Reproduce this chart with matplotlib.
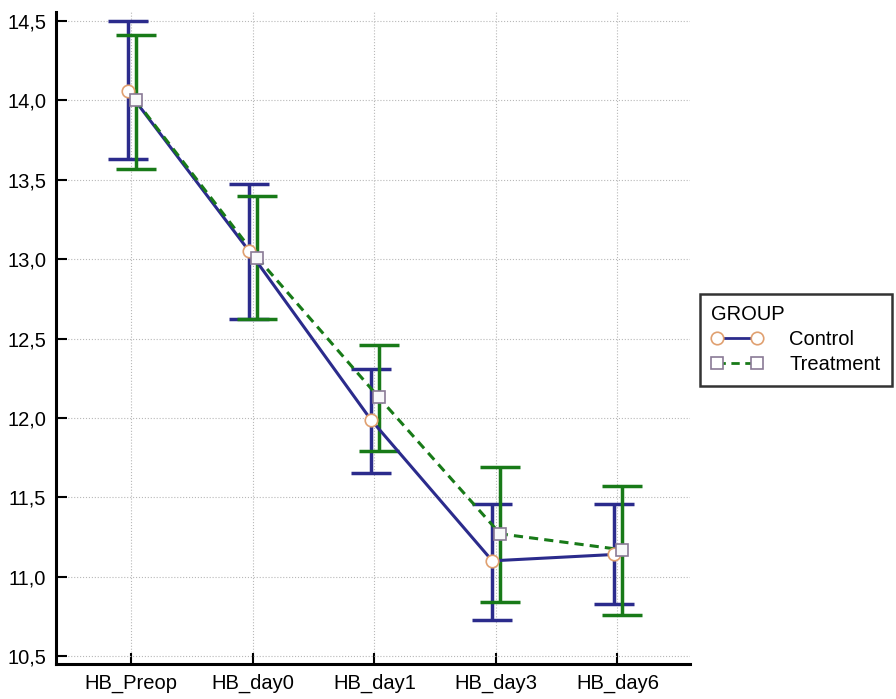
import matplotlib.pyplot as plt
import matplotlib.ticker as mticker
import numpy as np

plt.rcParams['font.family'] = ['Liberation Sans', 'DejaVu Sans']

# data
categories = ["HB_Preop", "HB_day0", "HB_day1", "HB_day3", "HB_day6"]
control_mean = [14.06, 13.05, 11.99, 11.10, 11.14]
control_hi = [14.50, 13.47, 12.31, 11.46, 11.46]
control_lo = [13.63, 12.62, 11.65, 10.73, 10.83]
treat_mean = [14.00, 13.01, 12.13, 11.27, 11.17]
treat_hi = [14.41, 13.40, 12.46, 11.69, 11.57]
treat_lo = [13.57, 12.62, 11.79, 10.84, 10.76]

blue = "#2b2b8c"
green = "#187a18"

fig = plt.figure(figsize=(8.96, 6.99), dpi=100)
ax = fig.add_axes([0.0625, 0.050, 0.708, 0.933])

x = np.arange(len(categories))
xc = x - 0.03
xt = x + 0.035

cm = np.array(control_mean)
tm = np.array(treat_mean)
c_err = [cm - np.array(control_lo), np.array(control_hi) - cm]
t_err = [tm - np.array(treat_lo), np.array(treat_hi) - tm]

ax.errorbar(xc, cm, yerr=c_err, fmt='none', ecolor=blue, elinewidth=2.5,
            capsize=14.5, capthick=2.5, zorder=3)
ax.errorbar(xt, tm, yerr=t_err, fmt='none', ecolor=green, elinewidth=2.5,
            capsize=14.5, capthick=2.5, zorder=3)
ax.plot(xc, cm, color=blue, lw=2.2, zorder=4)
ax.plot(xt, tm, color=green, lw=2.2, ls=(0, (3, 2)), zorder=5)
ax.plot(xc, cm, ls='none', marker='o', ms=9, mfc='white', mec='#e0a070',
        mew=1.2, zorder=6)
ax.plot(xt, tm, ls='none', marker='s', ms=9, mfc='#f8f8fa', mec='#8a7a96',
        mew=1.2, zorder=7)

# legend proxies
h1, = ax.plot([], [], color=blue, lw=2, marker='o', ms=9, mfc='white',
              mec='#e0a070', mew=1.2)
h2, = ax.plot([], [], color=green, lw=2, ls=(0, (3, 2)), marker='s', ms=8,
              mfc='white', mec='#8a7a96', mew=1.2)
leg = fig.legend([h1, h2], ["Control", "Treatment"], title="GROUP",
                 loc='upper left', bbox_to_anchor=(0.781, 0.579),
                 numpoints=2, handlelength=2.6, fontsize=14.5, title_fontsize=14.5,
                 frameon=True, fancybox=False, edgecolor='black',
                 borderpad=0.55, handletextpad=1.3, labelspacing=0.3,
                 borderaxespad=0)
leg._legend_box.align = "left"
leg.get_frame().set_linewidth(1.8)

ax.set_xlim(-0.62, 4.6)
ax.set_ylim(10.45, 14.557)
ax.set_xticks(x)
ax.set_xticklabels(categories)
ax.set_yticks([10.5, 11.0, 11.5, 12.0, 12.5, 13.0, 13.5, 14.0, 14.5])
ax.yaxis.set_major_formatter(mticker.FuncFormatter(lambda v, p: f"{v:.1f}".replace('.', ',')))

ax.grid(True, color='#b8b8b8', ls=':', lw=0.8)
ax.set_axisbelow(True)
for s in ['top', 'right']:
    ax.spines[s].set_visible(False)
for s in ['left', 'bottom']:
    ax.spines[s].set_linewidth(2.2)
ax.tick_params(axis='both', direction='in', length=8, width=1.5, labelsize=14.5,
               colors='black', pad=7)

fig.savefig("out.png", dpi=100)
